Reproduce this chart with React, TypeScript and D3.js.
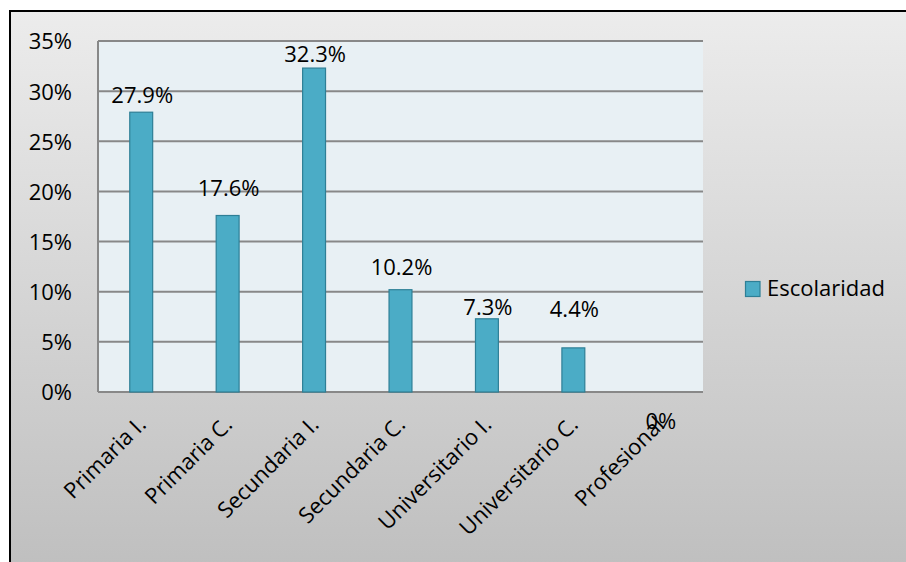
import React from "react";
import * as d3 from "d3";

const categories = ["Primaria I.", "Primaria C.", "Secundaria I.", "Secundaria C.", "Universitario I.", "Universitario C.", "Profesional"];
const values = [27.9, 17.6, 32.3, 10.2, 7.3, 4.4, 0];
const valueLabels = ["27.9%", "17.6%", "32.3%", "10.2%", "7.3%", "4.4%", "0%"];
const yTicks = [0, 5, 10, 15, 20, 25, 30, 35];
const seriesName = "Escolaridad";
// layout: vertical gap between bar top and label baseline (as placed in the original)
const labelGaps = [9, 19, 6, 15, 4, 31, -37];

const W = 906;
const H = 562;
const plot = { left: 98, right: 703, top: 41, bottom: 392 };
const FONT = "'Open Sans', 'Noto Sans', sans-serif";

export default function App() {
  const x = d3.scaleBand<string>().domain(categories).range([plot.left, plot.right]).paddingInner(0.735).paddingOuter(0.3675);
  const y = d3.scaleLinear().domain([0, 35]).range([plot.bottom, plot.top]);
  const bw = x.bandwidth();

  return (
    <svg width={W} height={H} style={{ position: "absolute", left: 0, top: 0 }} fontFamily={FONT}>
      <defs>
        <linearGradient id="bg" x1="0" y1="0" x2="0" y2="1">
          <stop offset="0" stopColor="#ECECEC" />
          <stop offset="1" stopColor="#BDBDBD" />
        </linearGradient>
      </defs>
      <rect x={0} y={0} width={W} height={H} fill="#fff" />
      <rect x={10} y={11} width={W + 20} height={H + 20} fill="url(#bg)" stroke="#000" strokeWidth={2} />
      <rect x={plot.left} y={plot.top} width={plot.right - plot.left} height={plot.bottom - plot.top} fill="#E8F0F4" />
      {yTicks.map((t) => (
        <g key={t}>
          <line x1={plot.left} x2={plot.right} y1={y(t)} y2={y(t)} stroke="#888" strokeWidth={2} />
          <text x={72} y={y(t)} dy="0.38em" textAnchor="end" fontSize={22} fill="#000">
            {t}%
          </text>
        </g>
      ))}
      <line x1={plot.left} x2={plot.left} y1={plot.top} y2={plot.bottom} stroke="#888" strokeWidth={2} />
      {categories.map((c, i) => {
        const bx = x(c)!;
        const top = y(values[i]);
        const cx = bx + bw / 2;
        return (
          <g key={c}>
            {values[i] > 0 && (
              <rect x={bx} y={top} width={bw} height={plot.bottom - top} fill="#4BACC6" stroke="#2E7F96" strokeWidth={1.2} />
            )}
            <text x={cx + 1} y={top - labelGaps[i]} textAnchor="middle" fontSize={22} fill="#000">
              {valueLabels[i]}
            </text>
            <text
              x={0}
              y={0}
              textAnchor="end"
              fontSize={22}
              fill="#000"
              transform={`translate(${cx + 6},${plot.bottom + 34}) rotate(-45)`}
            >
              {c}
            </text>
          </g>
        );
      })}
      <rect x={745.5} y={281.5} width={14.5} height={15} fill="#4BACC6" stroke="#2E7F96" strokeWidth={1.2} />
      <text x={767} y={296} fontSize={22} fill="#000">
        {seriesName}
      </text>
    </svg>
  );
}
